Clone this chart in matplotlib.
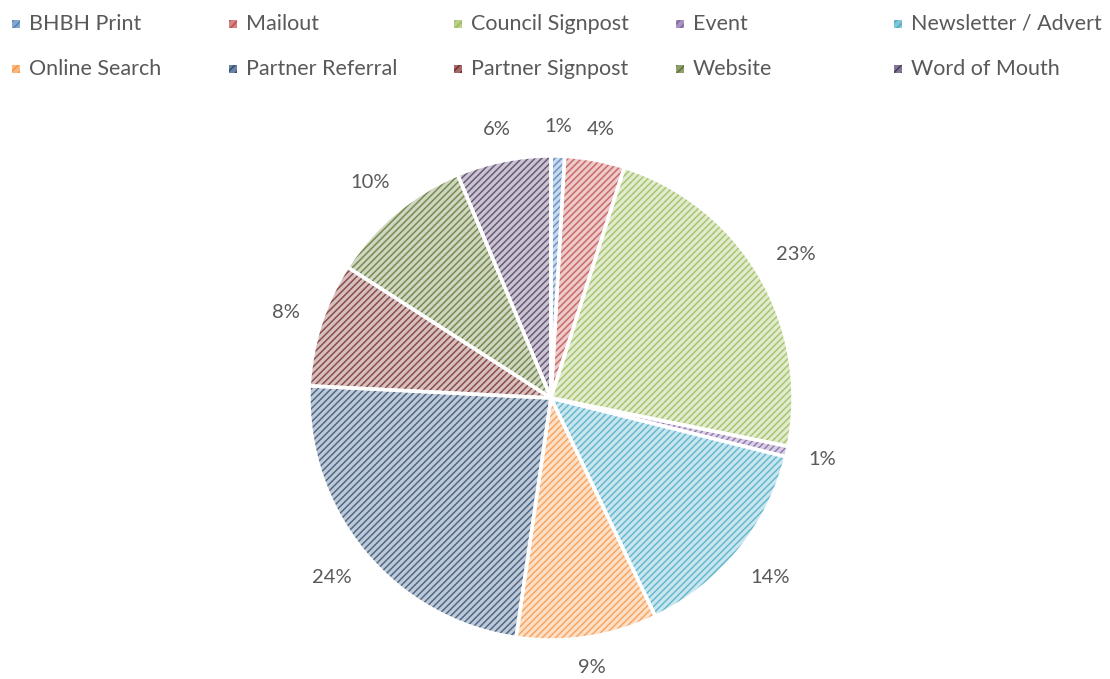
import matplotlib
matplotlib.use("Agg")
import matplotlib.pyplot as plt
from matplotlib.patches import Rectangle
import matplotlib.colors as mcolors
import numpy as np

categories = ["BHBH Print", "Mailout", "Council Signpost", "Event", "Newsletter / Advert",
              "Online Search", "Partner Referral", "Partner Signpost", "Website", "Word of Mouth"]
values = [0.9, 4.0, 23.3, 0.7, 14.0, 9.4, 23.5, 8.3, 9.6, 6.3]
colors = ["#4F81BD", "#C0504D", "#9BBB59", "#8064A2", "#4BACC6",
          "#F79646", "#2C4D75", "#772C2A", "#5F7530", "#4D3B62"]

def lighten(c, f):
    r, g, b = mcolors.to_rgb(c)
    return (r + (1 - r) * f, g + (1 - g) * f, b + (1 - b) * f)

plt.rcParams['font.family'] = ['Lato', 'DejaVu Sans']
plt.rcParams['hatch.linewidth'] = 1.1

W, H = 1110, 679
fig = plt.figure(figsize=(W / 100, H / 100), dpi=100)
cx, cy, R = 551, 398, 242
ax = fig.add_axes([(cx - R) / W, (H - cy - R) / H, 2 * R / W, 2 * R / H])

light = [lighten(c, 0.7) for c in colors]
wedges, _ = ax.pie(values, colors=light, startangle=90, counterclock=False, radius=1)
for w, c in zip(wedges, colors):
    w.set_hatch('/////')
    w.set_edgecolor(lighten(c, 0.15))
    w.set_linewidth(0)
# white borders
ax.pie(values, colors=['none'] * len(values), startangle=90, counterclock=False,
       radius=1, wedgeprops=dict(edgecolor='white', linewidth=2.5, fill=False))

ax.set_xlim(-1, 1)
ax.set_ylim(-1, 1)
ax.set_aspect('equal')
ax.axis('off')

# percentage labels, placed just outside the rim (box edge at fixed gap)
renderer = fig.canvas.get_renderer()
total = sum(values)
ang = 90.0
gap = 1.085
for v in values:
    mid = ang - 360.0 * v / total / 2
    ang -= 360.0 * v / total
    rad = np.deg2rad(mid)
    t = ax.text(0, 0, f"{round(v / total * 100):.0f}%",
                ha='center', va='center', fontsize=14.5, color='#595959')
    bb = t.get_window_extent(renderer)
    hw, hh = bb.width / 2 / R, bb.height / 2 / R
    d = gap + hw * abs(np.cos(rad)) + hh * abs(np.sin(rad))
    t.set_position((d * np.cos(rad), d * np.sin(rad)))

# legend
col_x = [16, 233, 458, 680, 898]
row_y = [24, 69]
for i, (cat, c) in enumerate(zip(categories, colors)):
    r, k = divmod(i, 5)
    x, y = col_x[k], row_y[r]
    sq = 8
    fig.patches.append(Rectangle(((x - sq / 2) / W, (H - y - sq / 2) / H), sq / W, sq / H,
                                 transform=fig.transFigure, facecolor=lighten(c, 0.3),
                                 edgecolor=c, hatch='////', linewidth=0))
    fig.text((x + 13) / W, (H - y) / H, cat, ha='left', va='center', fontsize=15.5, color='#595959')

fig.savefig("out.png", dpi=100)
